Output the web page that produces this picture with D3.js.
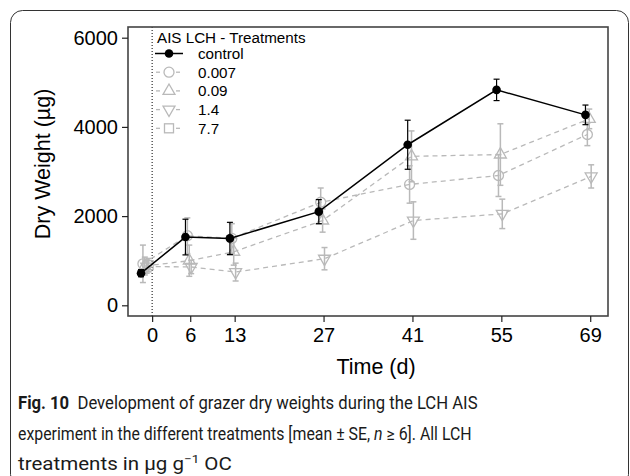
<!DOCTYPE html>
<html>
<head>
<meta charset="utf-8">
<script src="https://cdn.jsdelivr.net/npm/d3@7"></script>
<style>
  body { margin: 0; background: #fff; }
  svg { display: block; }
  text { font-family: "Liberation Sans", Arial, sans-serif; }
  .caption text { font-family: Roboto, "Open Sans", sans-serif; fill: #1a1a1a; }
</style>
</head>
<body>
<svg id="chart" width="630" height="476"></svg>
<script>
// sampling days (first sample taken the day before the start)
const days = [-1, 6, 13, 27, 41, 55, 69];

const seriesNames = ["control", "0.007", "0.09", "1.4", "7.7"];

// mean dry weight (µg) and SE per treatment
const control = [720, 1530, 1500, 2100, 3600, 4830, 4270];
const controlSE = [80, 400, 360, 270, 550, 240, 220];

const t0007 = [930, 1560, 1500, 2310, 2710, 2910, 3830];
const t0007SE = [420, 400, 330, 320, 420, 470, 250];

const t009 = [880, 1000, 1200, 1900, 3340, 3380, 4180];
const t009SE = [200, 350, 300, 260, 570, 690, 220];

const t14 = [870, 860, 745, 1045, 1900, 2050, 2890];
const t14SE = [150, 150, 200, 250, 420, 330, 260];

const t77 = [900];
const t77SE = [150];

const xTicks = [0, 6, 13, 27, 41, 55, 69];
const yTicks = [0, 2000, 4000, 6000];

const svg = d3.select("#chart");

// outer rounded frame
svg.append("rect")
  .attr("x", 10.5).attr("y", 10.5)
  .attr("width", 618).attr("height", 476)
  .attr("rx", 12)
  .attr("fill", "none")
  .attr("stroke", "#333")
  .attr("stroke-width", 1);

const plot = { left: 128, right: 608, top: 27, bottom: 316 };

const x = d3.scaleLinear().domain([-3.8, 71.8]).range([plot.left, plot.right]);
const y = d3.scaleLinear().domain([-240, 6240]).range([plot.bottom, plot.top]);

const grey = "#b9b9b9";

const series = [
  { name: seriesNames[1], values: t0007, se: t0007SE, shape: "circle", color: grey, dodge: -0.45 },
  { name: seriesNames[2], values: t009, se: t009SE, shape: "up", color: grey, dodge: -0.15 },
  { name: seriesNames[3], values: t14, se: t14SE, shape: "down", color: grey, dodge: 0.15 },
  { name: seriesNames[4], values: t77, se: t77SE, shape: "square", color: grey, dodge: 0.45 },
  { name: seriesNames[0], values: control, se: controlSE, shape: "dot", color: "#000", dodge: -0.75 }
];

function drawMarker(g, shape, color) {
  if (shape === "dot") {
    g.append("circle").attr("r", 4.3).attr("fill", color);
  } else if (shape === "circle") {
    g.append("circle").attr("r", 5).attr("fill", "none").attr("stroke", color).attr("stroke-width", 1.3);
  } else if (shape === "square") {
    g.append("rect").attr("x", -4.5).attr("y", -4.5).attr("width", 9).attr("height", 9)
      .attr("fill", "none").attr("stroke", color).attr("stroke-width", 1.3);
  } else {
    g.append("path")
      .attr("d", d3.symbol(d3.symbolTriangle, 62)())
      .attr("transform", shape === "down" ? "rotate(180)" : null)
      .attr("fill", "none").attr("stroke", color).attr("stroke-width", 1.3);
  }
}

// dotted line at day 0
svg.append("line")
  .attr("x1", x(0)).attr("x2", x(0))
  .attr("y1", plot.top).attr("y2", plot.bottom)
  .attr("stroke", "#000").attr("stroke-width", 1)
  .attr("stroke-dasharray", "1,2");

const line = d3.line().x(d => d.x).y(d => d.y);

series.forEach(s => {
  const pts = s.values.map((v, i) => ({
    x: x(days[i] + s.dodge), y: y(v), lo: y(v - s.se[i]), hi: y(v + s.se[i])
  }));
  const g = svg.append("g");
  const isCtrl = s.shape === "dot";

  if (pts.length > 1) {
    g.append("path")
      .attr("d", line(pts))
      .attr("fill", "none")
      .attr("stroke", s.color)
      .attr("stroke-width", isCtrl ? 1.5 : 1.3)
      .attr("stroke-dasharray", isCtrl ? null : "5,4");
  }

  // error bars
  const eb = g.selectAll(".eb").data(pts).enter().append("g")
    .attr("stroke", s.color).attr("stroke-width", isCtrl ? 1.2 : 1.5);
  eb.append("line").attr("x1", d => d.x).attr("x2", d => d.x).attr("y1", d => d.lo).attr("y2", d => d.hi);
  eb.append("line").attr("x1", d => d.x - 3).attr("x2", d => d.x + 3).attr("y1", d => d.lo).attr("y2", d => d.lo);
  eb.append("line").attr("x1", d => d.x - 3).attr("x2", d => d.x + 3).attr("y1", d => d.hi).attr("y2", d => d.hi);

  pts.forEach(p => {
    drawMarker(g.append("g").attr("transform", `translate(${p.x},${p.y})`), s.shape, s.color);
  });
});

// plot box
svg.append("rect")
  .attr("x", plot.left).attr("y", plot.top)
  .attr("width", plot.right - plot.left).attr("height", plot.bottom - plot.top)
  .attr("fill", "none").attr("stroke", "#444").attr("stroke-width", 1.6);

// axes
const xAxis = svg.append("g")
  .attr("transform", `translate(0,${plot.bottom})`)
  .call(d3.axisBottom(x).tickValues(xTicks).tickSize(6).tickPadding(6));
const yAxis = svg.append("g")
  .attr("transform", `translate(${plot.left},0)`)
  .call(d3.axisLeft(y).tickValues(yTicks).tickSize(6).tickPadding(4).tickFormat(d3.format("d")));

[xAxis, yAxis].forEach(a => {
  a.select(".domain").remove();
  a.selectAll(".tick line").attr("stroke", "#222").attr("stroke-width", 1.2);
  a.selectAll(".tick text")
    .attr("font-family", "Liberation Sans, Arial, sans-serif")
    .attr("font-size", 20).attr("fill", "#000");
});

svg.append("text")
  .attr("x", 376).attr("y", 374)
  .attr("text-anchor", "middle").attr("font-size", 21.5)
  .text("Time (d)");

svg.append("text")
  .attr("transform", "translate(50,164) rotate(-90)")
  .attr("text-anchor", "middle").attr("font-size", 21.5)
  .text("Dry Weight (µg)");

// legend
const legend = svg.append("g").attr("transform", "translate(157,0)");
legend.append("text")
  .attr("x", 0).attr("y", 42.5)
  .attr("font-size", 15.2)
  .text("AIS LCH - Treatments");

const legendOrder = [series[4], series[0], series[1], series[2], series[3]];
legendOrder.forEach((s, i) => {
  const ly = 53.5 + i * 18.7;
  const isCtrl = s.shape === "dot";
  const row = legend.append("g");
  if (isCtrl) {
    row.append("line").attr("x1", -2).attr("x2", 26).attr("y1", ly).attr("y2", ly)
      .attr("stroke", "#000").attr("stroke-width", 1.5);
  } else {
    row.append("line").attr("x1", -1).attr("x2", 3).attr("y1", ly).attr("y2", ly)
      .attr("stroke", s.color).attr("stroke-width", 1.3);
    row.append("line").attr("x1", 19).attr("x2", 23).attr("y1", ly).attr("y2", ly)
      .attr("stroke", s.color).attr("stroke-width", 1.3);
  }
  drawMarker(row.append("g").attr("transform", `translate(12,${ly})`), s.shape, s.color);
  row.append("text")
    .attr("x", 41).attr("y", ly + 5.5)
    .attr("font-size", 15.2)
    .text(s.name);
});

// caption, squeezed to the width of the original narrow typeface
const caption = svg.append("g").attr("class", "caption");
const capLines = [
  { y: 409, width: 460, parts: [["Fig. 10", "bold"], ["\u00a0\u00a0Development of grazer dry weights during the LCH AIS"]] },
  { y: 440, width: 454, parts: [["experiment in the different treatments [mean ± SE, "], ["n", "italic"], ["\u00a0≥ 6]. All LCH"]] },
  { y: 470, width: 214, parts: [["treatments in µg g"], ["−1", "sup"], ["\u00a0OC", "after"]] }
];
capLines.forEach(l => {
  const t = caption.append("text").attr("font-size", 17.5);
  l.parts.forEach(p => {
    const ts = t.append("tspan").text(p[0]);
    if (p[1] === "bold") ts.attr("font-weight", "bold");
    if (p[1] === "italic") ts.attr("font-style", "italic");
    if (p[1] === "sup") ts.attr("font-size", 11.5).attr("dy", -7);
    if (p[1] === "after") ts.attr("dy", 7);
  });
  const w = t.node().getBBox().width;
  t.attr("transform", `translate(18,${l.y}) scale(${l.width / w},1)`);
});
</script>
</body>
</html>
